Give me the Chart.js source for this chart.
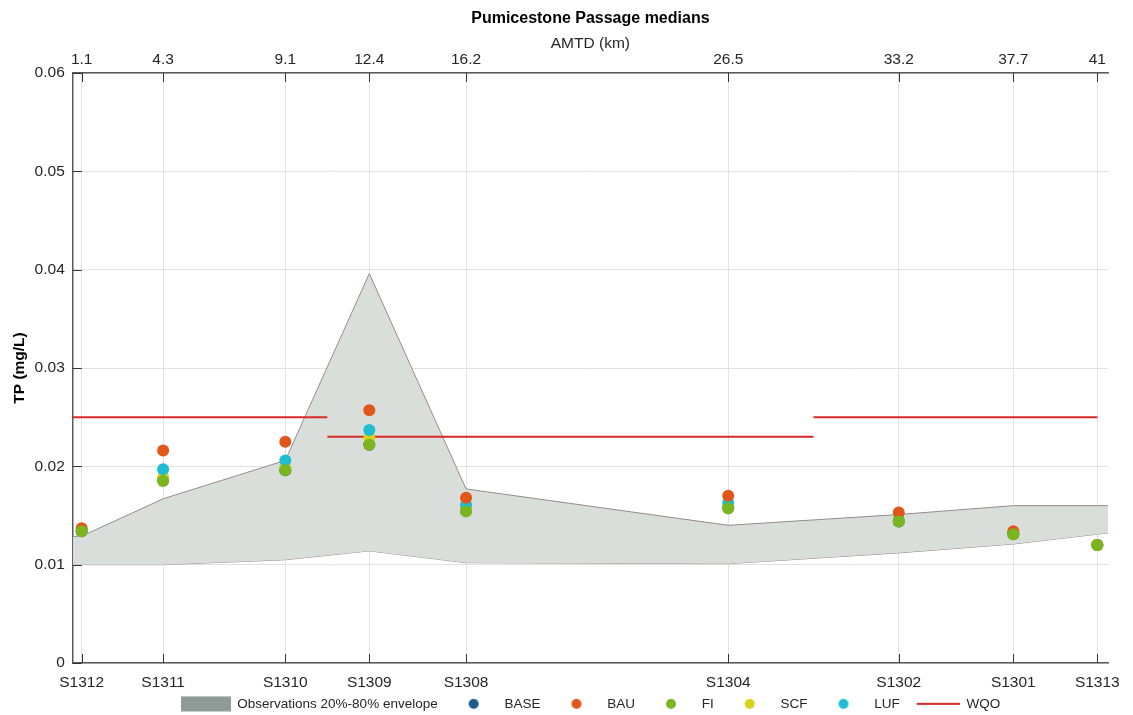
<!DOCTYPE html>
<html>
<head>
<meta charset="utf-8">
<title>Pumicestone Passage medians</title>
<script src="https://cdn.jsdelivr.net/npm/chart.js@4/dist/chart.umd.min.js"></script>
<style>
    html, body { margin: 0; padding: 0; background: #ffffff; }
</style>
</head>
<body>
<canvas id="tp-chart" width="1133" height="715"></canvas>
<script>
// Sites along the passage and their AMTD (km)
const sites = ['S1312', 'S1311', 'S1310', 'S1309', 'S1308', 'S1304', 'S1302', 'S1301', 'S1313'];
const amtd = [1.1, 4.3, 9.1, 12.4, 16.2, 26.5, 33.2, 37.7, 41];

// Scenario medians, TP (mg/L)
const base = [0.0134, 0.0186, 0.0196, 0.0222, 0.0155, 0.0158, 0.0144, 0.0131, 0.0120];
const bau = [0.0137, 0.0216, 0.0225, 0.0257, 0.0168, 0.0170, 0.0153, 0.0134, 0.0120];
const fi = [0.0134, 0.0185, 0.0196, 0.0222, 0.0154, 0.0157, 0.0144, 0.0131, 0.0120];
const scf = [0.0134, 0.0189, 0.0199, 0.0229, 0.0157, 0.0160, 0.0145, 0.0131, 0.0120];
const luf = [0.0134, 0.0197, 0.0206, 0.0237, 0.0161, 0.0163, 0.0145, 0.0132, 0.0120];

// Observations 20%-80% envelope
const envKm = [0, 1.1, 4.3, 9.1, 12.4, 16.2, 26.5, 33.2, 37.7, 41, 42];
const envHigh = [0.0128, 0.0129, 0.0167, 0.0206, 0.0396, 0.0177, 0.0140, 0.0151, 0.0160, 0.0160, 0.0160];
const envLow = [0.0100, 0.0100, 0.0100, 0.0105, 0.0114, 0.0102, 0.0101, 0.0112, 0.0121, 0.0131, 0.0134];

// Water quality objective (null breaks the line between zones)
const wqoKm = [0, 10.75, 10.75, 10.75, 29.85, 29.85, 29.85, 41];
const wqoVal = [0.025, 0.025, null, 0.023, 0.023, null, 0.025, 0.025];

const xMin = 0.75;
const xMax = 41.42;

const fontFamily = "'Liberation Sans', Arial, Helvetica, sans-serif";
const tickSize = 15.5;
const textColor = '#262626';
const axisColor = '#5a5a5a';
const gridColor = '#e2e2e2';

const colors = {
    base: '#1a5a8c',
    bau: '#e0561b',
    fi: '#7bb51f',
    scf: '#d8d21c',
    luf: '#1fbdd2',
    wqo: '#d92a2a',
    envFill: '#dadedb',
    envEdge: '#8e8e8e',
    envLegend: '#8e9b97'
};

function pts(xs, ys) {
    return xs.map((x, i) => ({ x: x, y: ys[i] }));
}

function scenario(label, values, color, order) {
    return {
        label: label,
        data: pts(amtd, values),
        showLine: false,
        pointRadius: 6,
        pointHoverRadius: 6,
        pointBorderWidth: 0,
        pointBackgroundColor: color,
        borderColor: color,
        backgroundColor: color,
        order: order
    };
}

// small canvases used as legend symbols (50px wide slot)
function legendIcon(draw) {
    const c = document.createElement('canvas');
    c.width = 50;
    c.height = 16;
    draw(c.getContext('2d'));
    return c;
}

function dotIcon(color) {
    return legendIcon(function(g) {
        g.fillStyle = color;
        g.beginPath();
        g.arc(26, 8, 5, 0, Math.PI * 2);
        g.fill();
    });
}

const legendItems = [
    { text: 'Observations 20%-80% envelope', datasetIndex: 0,
      pointStyle: legendIcon(function(g) { g.fillStyle = colors.envLegend; g.fillRect(0, 0.5, 50, 15); }) },
    { text: 'BASE', datasetIndex: 2, pointStyle: dotIcon(colors.base) },
    { text: 'BAU', datasetIndex: 3, pointStyle: dotIcon(colors.bau) },
    { text: 'FI', datasetIndex: 4, pointStyle: dotIcon(colors.fi) },
    { text: 'SCF', datasetIndex: 5, pointStyle: dotIcon(colors.scf) },
    { text: 'LUF', datasetIndex: 6, pointStyle: dotIcon(colors.luf) },
    { text: 'WQO', datasetIndex: 7,
      pointStyle: legendIcon(function(g) {
          g.strokeStyle = colors.wqo;
          g.lineWidth = 2;
          g.beginPath();
          g.moveTo(7, 8);
          g.lineTo(50, 8);
          g.stroke();
      }) }
].map(function(item) {
    item.fontColor = textColor;
    item.hidden = false;
    item.lineWidth = 0;
    item.fillStyle = 'rgba(0,0,0,0)';
    item.strokeStyle = 'rgba(0,0,0,0)';
    return item;
});

// MATLAB style tick marks pointing into the plot
const innerTicks = {
    id: 'innerTicks',
    afterDraw(chart) {
        const { ctx, chartArea } = chart;
        const len = 9;
        ctx.save();
        ctx.strokeStyle = '#333333';
        ctx.lineWidth = 1;
        ctx.beginPath();
        chart.scales.x.ticks.forEach(function(t) {
            const px = Math.round(chart.scales.x.getPixelForValue(t.value)) + 0.5;
            ctx.moveTo(px, chartArea.bottom);
            ctx.lineTo(px, chartArea.bottom - len);
        });
        chart.scales.x2.ticks.forEach(function(t) {
            const px = Math.round(chart.scales.x2.getPixelForValue(t.value)) + 0.5;
            ctx.moveTo(px, chartArea.top);
            ctx.lineTo(px, chartArea.top + len);
        });
        chart.scales.y.ticks.forEach(function(t) {
            const py = Math.round(chart.scales.y.getPixelForValue(t.value)) + 0.5;
            ctx.moveTo(chartArea.left, py);
            ctx.lineTo(chartArea.left + len, py);
        });
        ctx.stroke();
        ctx.restore();
    }
};

// keep the legend centred under the plot area, not the whole canvas
const legendUnderPlot = {
    id: 'legendUnderPlot',
    afterLayout(chart) {
        const lg = chart.legend;
        if (!lg) return;
        const shift = (chart.chartArea.left + chart.chartArea.right) / 2 - (lg.left + lg.right) / 2;
        lg.left += shift;
        lg.right += shift;
    }
};

function siteTicks(scale) {
    scale.ticks = amtd.map(v => ({ value: v }));
}

const ctx = document.getElementById('tp-chart').getContext('2d');
const chart = new Chart(ctx, {
    type: 'line',
    data: {
        datasets: [
            {
                label: 'Observations 20%-80% envelope',
                data: pts(envKm, envHigh),
                borderColor: colors.envEdge,
                borderWidth: 1,
                backgroundColor: colors.envFill,
                pointRadius: 0,
                fill: '+1',
                order: 10
            },
            {
                label: 'envelope low',
                data: pts(envKm, envLow),
                borderColor: colors.envEdge,
                borderWidth: 1,
                pointRadius: 0,
                fill: false,
                order: 10
            },
            scenario('BASE', base, colors.base, 5),
            scenario('BAU', bau, colors.bau, 2),
            scenario('FI', fi, colors.fi, 1),
            scenario('SCF', scf, colors.scf, 4),
            scenario('LUF', luf, colors.luf, 3),
            {
                label: 'WQO',
                data: pts(wqoKm, wqoVal),
                borderColor: colors.wqo,
                borderWidth: 2,
                pointRadius: 0,
                spanGaps: false,
                fill: false,
                order: 8
            }
        ]
    },
    options: {
        responsive: false,
        animation: false,
        events: [],
        layout: { padding: { left: 6, right: 25, top: 4, bottom: -5.6 } },
        scales: {
            x: {
                type: 'linear',
                position: 'bottom',
                min: xMin,
                max: xMax,
                afterBuildTicks: siteTicks,
                afterFit: (s) => { s.height -= 14.5; },
                ticks: {
                    callback: (v, i) => sites[i],
                    autoSkip: false,
                    maxRotation: 0,
                    padding: 10,
                    color: textColor,
                    font: { family: fontFamily, size: tickSize }
                },
                grid: { color: gridColor, drawTicks: false },
                border: { color: axisColor, width: 1.5 }
            },
            x2: {
                type: 'linear',
                position: 'top',
                weight: 1,
                min: xMin,
                max: xMax,
                afterBuildTicks: siteTicks,
                ticks: {
                    callback: (v) => String(v),
                    autoSkip: false,
                    maxRotation: 0,
                    padding: 4,
                    color: textColor,
                    font: { family: fontFamily, size: tickSize }
                },
                grid: { display: false, drawTicks: false },
                border: { color: axisColor, width: 1.5 },
                title: {
                    display: true,
                    text: 'AMTD (km)',
                    color: textColor,
                    font: { family: fontFamily, size: tickSize },
                    padding: { top: 0, bottom: -7 }
                }
            },
            x3: {
                type: 'linear',
                position: 'top',
                weight: 2,
                min: xMin,
                max: xMax,
                ticks: { display: false },
                grid: { display: false, drawTicks: false },
                border: { display: false },
                title: {
                    display: true,
                    text: 'Pumicestone Passage medians',
                    color: '#000000',
                    font: { family: fontFamily, size: 16, weight: 'bold' },
                    padding: { top: 5, bottom: 6.6 }
                }
            },
            y: {
                type: 'linear',
                position: 'left',
                min: 0,
                max: 0.06,
                ticks: {
                    stepSize: 0.01,
                    callback: (v) => String(parseFloat(v.toFixed(2))),
                    padding: 8,
                    color: textColor,
                    font: { family: fontFamily, size: tickSize }
                },
                grid: { color: gridColor, drawTicks: false },
                border: { color: axisColor, width: 1.5 },
                title: {
                    display: true,
                    text: 'TP (mg/L)',
                    color: '#000000',
                    font: { family: fontFamily, size: tickSize, weight: 'bold' },
                    padding: { top: 4, bottom: -2 }
                }
            }
        },
        plugins: {
            title: { display: false },
            tooltip: { enabled: false },
            legend: {
                position: 'bottom',
                labels: {
                    usePointStyle: true,
                    pointStyleWidth: 50,
                    boxHeight: 15,
                    padding: 10,
                    color: textColor,
                    font: { family: fontFamily, size: 13.5 },
                    generateLabels: () => legendItems
                }
            }
        }
    },
    plugins: [innerTicks, legendUnderPlot]
});
</script>
</body>
</html>
